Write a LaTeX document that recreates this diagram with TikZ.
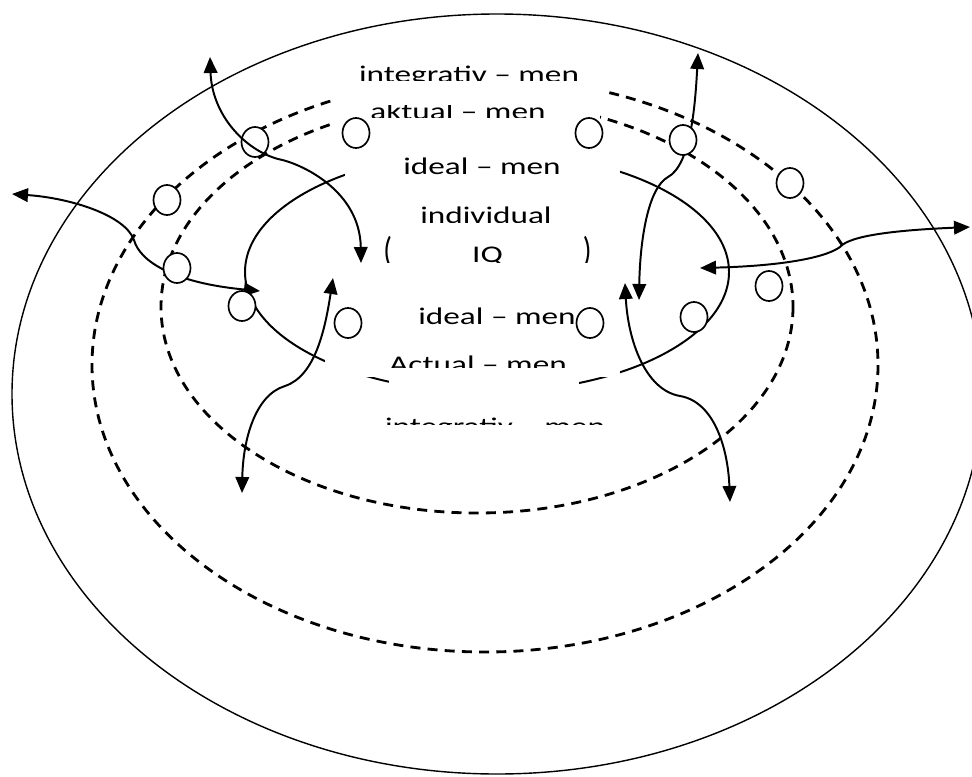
\documentclass[tikz,border=0pt]{standalone}
\usepackage{fontspec}
\setmainfont{Carlito}
\usepackage{graphicx}
\usetikzlibrary{arrows.meta,shapes.geometric}

\newcommand{\wtxt}[1]{\scalebox{1.39}[1]{\fontsize{17}{20}\selectfont #1}}
\newcommand{\tallpar}[1]{\scalebox{1.2}[1.5]{\fontsize{17}{20}\selectfont #1}}

\begin{document}
\begin{tikzpicture}[x=0.025cm,y=-0.025cm,
	ring/.style={line width=1pt},
	dring/.style={line width=2pt,dash pattern=on 0.25cm off 0.18cm},
	bub/.style={ellipse,draw=black,fill=white,line width=1.2pt,minimum width=0.675cm,minimum height=0.75cm,inner sep=0pt},
	lbl/.style={anchor=base,inner sep=0pt},
	arr/.style={line width=1.4pt,>={Triangle[length=0.4cm,width=0.34cm]},<->}]
		
		\useasboundingbox (0,0) rectangle (972,776);
		
		% rings
		\draw[ring] (497,394) ellipse [x radius=485,y radius=380];
		\draw[dring] (485,365) ellipse [x radius=393,y radius=287];
		\draw[dring] (477,307) ellipse [x radius=316,y radius=206];
		\draw[line width=1.4pt] (487,272) ellipse [x radius=242,y radius=120];
		
		% white behind the labels
		\fill[white] (300,56) rectangle (608,100);
		\fill[white] (335,100) rectangle (600,127);
		\fill[white] (345,140) rectangle (620,182);
		\fill[white] (325,345) rectangle (620,377);
		\fill[white] (389,380) rectangle (579,436);
		
		% labels
		\begin{scope}
			\clip (300,56) rectangle (608,80);
			\node[lbl] (int1) at (469,82) {\wtxt{integrativ -- men}};
		\end{scope}
		\begin{scope}
			\clip (335,105) rectangle (600,117);
			\node[lbl] (akt) at (458,119) {\wtxt{aktual -- men}};
		\end{scope}
		\begin{scope}
			\clip (345,140) rectangle (620,174.5);
			\node[lbl] (ide1) at (482,174) {\wtxt{ideal -- men}};
		\end{scope}
		\begin{scope}
			\clip (380,195) rectangle (600,222.5);
			\node[lbl] (ind) at (486,223) {\wtxt{individual}};
		\end{scope}
		\begin{scope}
			\clip (370,225) rectangle (610,262);
			\node[lbl] (iq) at (487.5,262) {\tallpar{(}\hspace{2.0cm}\wtxt{IQ}\hspace{2.0cm}\tallpar{)}};
		\end{scope}
		\node[lbl] (ide2) at (497,324) {\wtxt{ideal -- men}};
		\begin{scope}
			\clip (325,345) rectangle (620,367);
			\node[lbl] (act) at (478,372) {\wtxt{Actual -- men}};
		\end{scope}
		\begin{scope}
			\clip (370,400) rectangle (625,424);
			\node[lbl] (int2) at (495,434) {\wtxt{integrativ -- men}};
		\end{scope}
		
		% arrow ends
		\coordinate (tlOut) at (210,57);
		\coordinate (tlMid) at (278,159);
		\coordinate (tlIn) at (361,263);
		\coordinate (lOut) at (12,194);
		\coordinate (lMid) at (134,240);
		\coordinate (lIn) at (260,291);
		\coordinate (blOut) at (242,493);
		\coordinate (blMid) at (285,386);
		\coordinate (blIn) at (333,278);
		\coordinate (brIn) at (625,283);
		\coordinate (brMid) at (680,396);
		\coordinate (brOut) at (730,502);
		\coordinate (trOut) at (698,53);
		\coordinate (trMid) at (668,177);
		\coordinate (trIn) at (639,300);
		\coordinate (rOut) at (970,227);
		\coordinate (rMid) at (840,247);
		\coordinate (rIn) at (700,268);
		
		\draw[arr] (lOut) .. controls (70,198) and (125,215) .. (lMid) .. controls (140,262) and (175,283) .. (lIn);
		\draw[arr] (blOut) .. controls (243,440) and (255,395) .. (blMid) .. controls (315,376) and (325,330) .. (blIn);
		\draw[arr] (brIn) .. controls (628,340) and (645,390) .. (brMid) .. controls (715,402) and (728,450) .. (brOut);
		\draw[arr] (trOut) .. controls (695,110) and (690,165) .. (trMid) .. controls (648,188) and (640,240) .. (trIn);
		\draw[arr] (rOut) .. controls (900,230) and (850,235) .. (rMid) .. controls (825,258) and (780,266) .. (rIn);
		
		% small circles
		\node[bub] (c1) at (255,142) {};
		\node[bub] (c2) at (356,133) {};
		\node[bub] (c3) at (589,133) {};
		\node[bub] (c4) at (683,140) {};
		\node[bub] (c5) at (167,200) {};
		\node[bub] (c6) at (790,183) {};
		\node[bub] (c7) at (177,268) {};
		\node[bub] (c8) at (769,286) {};
		\node[bub] (c9) at (242,306) {};
		\node[bub] (c10) at (348,323) {};
		\node[bub] (c11) at (590,323) {};
		\node[bub] (c12) at (694,317) {};
		
		\draw[arr] (tlOut) .. controls (212,115) and (245,150) .. (tlMid) .. controls (300,163) and (360,190) .. (tlIn);
	\end{tikzpicture}
\end{document}
